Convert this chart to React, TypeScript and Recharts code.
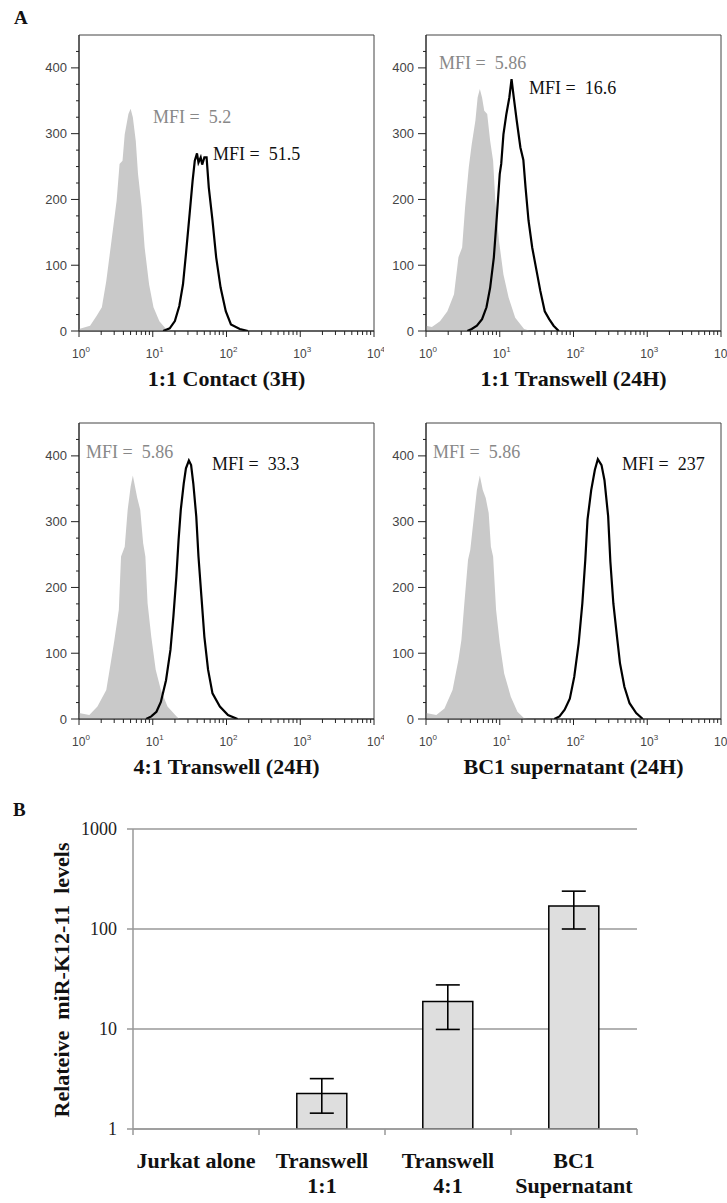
import React from "react";
import {
  ComposedChart,
  Area,
  Line,
  XAxis,
  YAxis,
  ReferenceArea,
  BarChart,
  Bar,
  ErrorBar,
  CartesianGrid,
} from "recharts";

// ---- Panel A: flow histograms (x in decades, y = cell count) ----
const decadeLabels = ["0", "1", "2", "3", "4"];
const countTicks = [0, 25, 50, 75, 100, 125, 150, 175, 200, 225, 250, 275, 300, 325, 350, 375, 400, 425];

// 1:1 Contact (3H)
const p1GreyX = [0, 0.15, 0.24, 0.31, 0.37, 0.44, 0.51, 0.55, 0.59, 0.62, 0.67, 0.7, 0.73, 0.77, 0.8, 0.85, 0.89, 0.95, 1.01, 1.09, 1.18, 1.25];
const p1GreyY = [3, 8, 23, 36, 76, 137, 198, 254, 259, 299, 330, 338, 325, 289, 239, 188, 127, 71, 36, 15, 3, 0];
const p1BlackX = [1.14, 1.23, 1.3, 1.36, 1.41, 1.45, 1.5, 1.54, 1.57, 1.6, 1.62, 1.65, 1.67, 1.7, 1.73, 1.76, 1.81, 1.86, 1.92, 1.99, 2.06, 2.18, 2.29];
const p1BlackY = [0, 4, 15, 38, 71, 117, 178, 228, 259, 270, 256, 264, 253, 264, 264, 218, 168, 112, 66, 30, 10, 3, 0];

// 1:1 Transwell (24H)
const p2GreyX = [0, 0.08, 0.19, 0.29, 0.38, 0.44, 0.49, 0.53, 0.58, 0.62, 0.67, 0.7, 0.73, 0.76, 0.79, 0.83, 0.87, 0.91, 0.94, 0.99, 1.05, 1.12, 1.21, 1.33, 1.42];
const p2GreyY = [8, 6, 15, 30, 56, 112, 127, 188, 249, 284, 320, 355, 368, 355, 335, 330, 289, 259, 198, 137, 86, 51, 20, 3, 0];
const p2BlackX = [0.56, 0.62, 0.69, 0.76, 0.82, 0.87, 0.92, 0.96, 1.0, 1.02, 1.05, 1.09, 1.13, 1.16, 1.19, 1.23, 1.28, 1.32, 1.35, 1.39, 1.44, 1.5, 1.55, 1.61, 1.67, 1.73, 1.8];
const p2BlackY = [0, 3, 8, 18, 36, 66, 112, 173, 239, 254, 299, 330, 355, 383, 355, 320, 279, 260, 218, 168, 127, 91, 61, 30, 18, 8, 0];

// 4:1 Transwell (24H)
const p3GreyX = [0, 0.14, 0.25, 0.37, 0.43, 0.48, 0.54, 0.57, 0.62, 0.66, 0.7, 0.73, 0.76, 0.79, 0.83, 0.87, 0.9, 0.93, 0.98, 1.04, 1.11, 1.2, 1.32, 1.36];
const p3GreyY = [9, 6, 19, 44, 85, 120, 166, 247, 262, 318, 353, 370, 353, 336, 318, 267, 247, 176, 125, 75, 44, 19, 4, 0];
const p3BlackX = [0.91, 0.98, 1.05, 1.11, 1.18, 1.24, 1.28, 1.32, 1.35, 1.38, 1.42, 1.45, 1.49, 1.52, 1.55, 1.59, 1.62, 1.66, 1.7, 1.75, 1.81, 1.91, 2.02, 2.15];
const p3BlackY = [0, 4, 11, 26, 59, 105, 156, 216, 272, 318, 358, 381, 393, 386, 358, 308, 247, 186, 125, 75, 39, 19, 6, 0];

// BC1 supernatant (24H)
const p4GreyX = [0, 0.14, 0.25, 0.36, 0.44, 0.48, 0.52, 0.57, 0.6, 0.65, 0.69, 0.73, 0.77, 0.81, 0.85, 0.88, 0.91, 0.95, 1.0, 1.06, 1.15, 1.24, 1.33, 1.38];
const p4GreyY = [9, 6, 16, 44, 90, 120, 176, 242, 257, 308, 348, 370, 348, 336, 313, 262, 247, 166, 115, 69, 34, 11, 1, 0];
const p4BlackX = [1.74, 1.81, 1.88, 1.95, 2.01, 2.07, 2.12, 2.16, 2.19, 2.24, 2.29, 2.33, 2.38, 2.42, 2.47, 2.5, 2.54, 2.59, 2.63, 2.69, 2.76, 2.85, 2.94];
const p4BlackY = [0, 4, 14, 31, 64, 115, 176, 242, 303, 348, 379, 395, 386, 363, 308, 239, 176, 125, 85, 49, 24, 9, 0];

// ---- Panel B: relative miR-K12-11 levels ----
const groups = ["Jurkat alone", "Transwell\n1:1", "Transwell\n4:1", "BC1\nSupernatant"];
const levels = [1, 2.27, 18.8, 170];
const levelLow = [null, 1.44, 9.9, 100];
const levelHigh = [null, 3.19, 27.6, 239];
const levelTicks = [1, 10, 100, 1000];

const SERIF = "'Liberation Serif', 'Times New Roman', serif";
const SANS = "'Liberation Sans', Arial, sans-serif";

const zip = (xs: number[], ys: number[]) => xs.map((x, i) => ({ x, y: ys[i] }));

// x ticks: decades plus 2..9 minor ticks
const histXTicks: number[] = [];
for (let d = 0; d < 4; d++) {
  for (let k = 1; k <= 9; k++) histXTicks.push(d + Math.log10(k));
}
histXTicks.push(4);

const HistXTick = (props: any) => {
  const { x, y, payload } = props;
  const v = payload.value;
  const major = Math.abs(v - Math.round(v)) < 1e-6;
  return (
    <g>
      <line x1={x} x2={x} y1={y} y2={y + (major ? 6 : 4)} stroke="#222" />
      {major && (
        <text x={x + 2} y={y + 27} textAnchor="middle" fontFamily={SANS} fontSize={12} fill="#444">
          <tspan>10</tspan>
          <tspan dy={-6} fontSize={8}>{decadeLabels[Math.round(v)]}</tspan>
        </text>
      )}
    </g>
  );
};

const HistYTick = (props: any) => {
  const { x, y, payload } = props;
  const v = payload.value;
  const major = v % 100 === 0;
  return (
    <g>
      <line x1={x - (major ? 8 : 3)} x2={x} y1={y} y2={y} stroke="#222" />
      {major && (
        <text x={x - 12} y={y + 4.5} textAnchor="end" fontFamily={SANS} fontSize={13} fill="#444">
          {v}
        </text>
      )}
    </g>
  );
};

function Histogram({ left, top, grey, black }: any) {
  return (
    <div style={{ position: "absolute", left, top }}>
      <ComposedChart width={364} height={336} margin={{ top: 10, right: 10, bottom: 0, left: 0 }}>
        <XAxis
          type="number"
          dataKey="x"
          domain={[0, 4]}
          ticks={histXTicks}
          interval={0}
          tickSize={0}
          tickMargin={0}
          tickLine={false}
          axisLine={{ stroke: "#222" }}
          height={30}
          tick={(p: any) => <HistXTick {...p} />}
          allowDataOverflow
        />
        <YAxis
          type="number"
          domain={[0, 450]}
          ticks={countTicks}
          interval={0}
          width={59}
          tickSize={0}
          tickMargin={0}
          tickLine={false}
          axisLine={{ stroke: "#222" }}
          tick={(p: any) => <HistYTick {...p} />}
          allowDataOverflow
        />
        <ReferenceArea x1={0} x2={4} y1={0} y2={450} fill="none" stroke="#444" ifOverflow="visible" />
        <Area data={grey} dataKey="y" type="linear" fill="#c9c9c9" fillOpacity={1} stroke="none" isAnimationActive={false} />
        <Line data={black} dataKey="y" type="linear" stroke="#000" strokeWidth={2.2} dot={false} isAnimationActive={false} />
      </ComposedChart>
    </div>
  );
}

const BAR_W = 592;
const BAR_YW = 73;
const BAR_MR = 15;
const BAND = (BAR_W - BAR_YW - BAR_MR) / groups.length;

const CatTick = (props: any) => {
  const { x, y, payload, index } = props;
  const lines = String(payload.value).split("\n");
  return (
    <g>
      <line x1={x - BAND / 2} x2={x - BAND / 2} y1={y} y2={y + 6} stroke="#999" strokeWidth={1.5} />
      {index === groups.length - 1 && (
        <line x1={x + BAND / 2} x2={x + BAND / 2} y1={y} y2={y + 6} stroke="#999" strokeWidth={1.5} />
      )}
      <text x={x} y={y + 39} textAnchor="middle" fontFamily={SERIF} fontWeight="bold" fontSize={22} fill="#111">
        {lines.map((l, i) => (
          <tspan key={i} x={x} dy={i === 0 ? 0 : 25}>
            {l}
          </tspan>
        ))}
      </text>
    </g>
  );
};

const panels = [
  { title: "1:1 Contact (3H)", left: 20, top: 25, grey: zip(p1GreyX, p1GreyY), black: zip(p1BlackX, p1BlackY),
    mfiGrey: "MFI =  5.2", mfiBlack: "MFI =  51.5", gPos: [153, 123], bPos: [213, 160] },
  { title: "1:1 Transwell (24H)", left: 367, top: 25, grey: zip(p2GreyX, p2GreyY), black: zip(p2BlackX, p2BlackY),
    mfiGrey: "MFI =  5.86", mfiBlack: "MFI =  16.6", gPos: [439, 69], bPos: [529, 94] },
  { title: "4:1 Transwell (24H)", left: 20, top: 413, grey: zip(p3GreyX, p3GreyY), black: zip(p3BlackX, p3BlackY),
    mfiGrey: "MFI =  5.86", mfiBlack: "MFI =  33.3", gPos: [86, 458], bPos: [212, 470] },
  { title: "BC1 supernatant (24H)", left: 367, top: 413, grey: zip(p4GreyX, p4GreyY), black: zip(p4BlackX, p4BlackY),
    mfiGrey: "MFI =  5.86", mfiBlack: "MFI =  237", gPos: [433, 458], bPos: [622, 470] },
];

export default function App() {
  const barData = groups.map((name, i) => ({
    name,
    value: levels[i],
    err: levelLow[i] == null ? null : [levels[i] - (levelLow[i] as number), (levelHigh[i] as number) - levels[i]],
  }));

  return (
    <div style={{ position: "absolute", left: 0, top: 0, width: 727, height: 1203, background: "#fff" }}>
      {panels.map((p) => (
        <Histogram key={p.title} left={p.left} top={p.top} grey={p.grey} black={p.black} />
      ))}

      <div style={{ position: "absolute", left: 60, top: 815 }}>
        <BarChart
          width={BAR_W}
          height={388}
          data={barData}
          margin={{ top: 14, right: BAR_MR, bottom: 0, left: 0 }}
          barCategoryGap="30%"
        >
          <CartesianGrid vertical={false} stroke="#999" strokeWidth={1.5} />
          <XAxis
            dataKey="name"
            height={74}
            interval={0}
            tickLine={false}
            tickSize={0}
            tickMargin={0}
            axisLine={{ stroke: "#999", strokeWidth: 1.5 }}
            tick={(p: any) => <CatTick {...p} />}
          />
          <YAxis
            type="number"
            scale="log"
            domain={[1, 1000]}
            ticks={levelTicks}
            interval={0}
            width={BAR_YW}
            tickSize={6}
            tickMargin={10}
            tickLine={{ stroke: "#999", strokeWidth: 1.5 }}
            axisLine={{ stroke: "#999", strokeWidth: 1.5 }}
            tick={{ fontFamily: SERIF, fontSize: 18, fill: "#222" }}
            allowDataOverflow
          />
          <Bar dataKey="value" fill="#dedede" stroke="#000" strokeWidth={1.5} isAnimationActive={false}>
            <ErrorBar dataKey="err" width={12} stroke="#000" strokeWidth={1.6} direction="y" />
          </Bar>
        </BarChart>
      </div>

      <svg width={727} height={1203} style={{ position: "absolute", left: 0, top: 0, pointerEvents: "none" }}>
        <text x={14} y={24} fontFamily={SERIF} fontWeight="bold" fontSize={19} fill="#111">A</text>
        <text x={13} y={816} fontFamily={SERIF} fontWeight="bold" fontSize={19} fill="#111">B</text>
        {panels.map((p) => (
          <g key={p.title}>
            <text x={p.left + 59 + 147.5} y={p.top + 361} textAnchor="middle" fontFamily={SERIF} fontWeight="bold" fontSize={22} fill="#111">
              {p.title}
            </text>
            <text x={p.gPos[0]} y={p.gPos[1]} fontFamily={SERIF} fontSize={18} fill="#888" style={{ whiteSpace: "pre" }}>
              {p.mfiGrey}
            </text>
            <text x={p.bPos[0]} y={p.bPos[1]} fontFamily={SERIF} fontSize={18} fill="#111" style={{ whiteSpace: "pre" }}>
              {p.mfiBlack}
            </text>
          </g>
        ))}
        <text
          transform="translate(69,980) rotate(-90)"
          textAnchor="middle"
          fontFamily={SERIF}
          fontWeight="bold"
          fontSize={22}
          fill="#111"
          style={{ whiteSpace: "pre" }}
        >
          {"Relateive  miR-K12-11  levels"}
        </text>
      </svg>
    </div>
  );
}
